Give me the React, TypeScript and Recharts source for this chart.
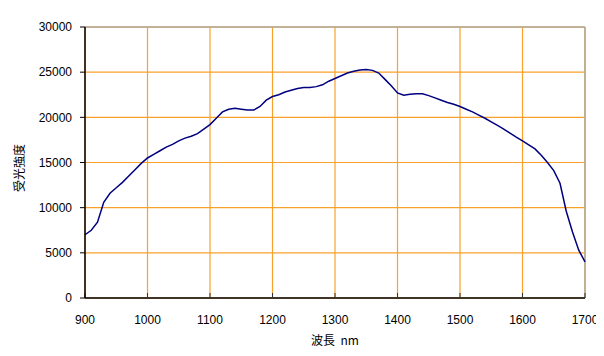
import { LineChart, Line, XAxis, YAxis, CartesianGrid, ReferenceLine } from "recharts";

// wavelength (nm) and received light intensity, every 10 nm
const wavelengths = [
  900, 910, 920, 930, 940, 950, 960, 970, 980, 990,
  1000, 1010, 1020, 1030, 1040, 1050, 1060, 1070, 1080, 1090,
  1100, 1110, 1120, 1130, 1140, 1150, 1160, 1170, 1180, 1190,
  1200, 1210, 1220, 1230, 1240, 1250, 1260, 1270, 1280, 1290,
  1300, 1310, 1320, 1330, 1340, 1350, 1360, 1370, 1380, 1390,
  1400, 1410, 1420, 1430, 1440, 1450, 1460, 1470, 1480, 1490,
  1500, 1510, 1520, 1530, 1540, 1550, 1560, 1570, 1580, 1590,
  1600, 1610, 1620, 1630, 1640, 1650, 1660, 1670, 1680, 1690,
  1700,
];

const intensity = [
  7000, 7500, 8400, 10600, 11600, 12200, 12800, 13500, 14200, 14900,
  15500, 15900, 16300, 16700, 17000, 17400, 17700, 17900, 18200, 18700,
  19200, 19900, 20600, 20900, 21000, 20900, 20800, 20800, 21200, 21900,
  22300, 22500, 22800, 23000, 23200, 23300, 23300, 23400, 23600, 24000,
  24300, 24600, 24900, 25100, 25250, 25300, 25200, 24900, 24200, 23500,
  22700, 22450, 22550, 22600, 22600, 22400, 22150, 21900, 21650, 21450,
  21200, 20900, 20600, 20250, 19900, 19500, 19100, 18700, 18250, 17800,
  17400, 16950, 16500, 15800, 15000, 14100, 12700, 9600, 7300, 5300,
  4000,
];

const xTicks = [900, 1000, 1100, 1200, 1300, 1400, 1500, 1600, 1700];
const yTicks = [0, 5000, 10000, 15000, 20000, 25000, 30000];

const ORANGE = "#F9A22B";
const FRAME = "#B0A898";
const TICK_FONT = { fontSize: 12, fill: "#000", fontFamily: "'Liberation Sans', Arial, sans-serif" };
const JP_FONT = "'Noto Sans CJK JP', sans-serif";

const data = wavelengths.map((w, i) => ({ nm: w, value: intensity[i] }));

// rotated y axis title, plus the outer chart frame (only its top and left
// edges fall inside the 604x356 picture)
function YTitle() {
  return (
    <g>
      <path d="M5 356 L5 7 L604 7" fill="none" stroke="#3a3a3a" strokeWidth={2} />
      <text
        x={18}
        y={168}
        transform="rotate(-90, 18, 168)"
        textAnchor="middle"
        dominantBaseline="central"
        fontSize={12}
        fill="#000"
        fontFamily={JP_FONT}
      >
        受光強度
      </text>
    </g>
  );
}

export default function App() {
  return (
    <div style={{ width: 604, height: 356, margin: -8, background: "#fff" }}>
      <LineChart width={604} height={356} data={data} margin={{ top: 27, right: 19, left: 25, bottom: 28 }}>
        <CartesianGrid stroke={ORANGE} strokeWidth={1.2} />
        <XAxis
          dataKey="nm"
          type="number"
          domain={[900, 1700]}
          ticks={xTicks}
          tick={TICK_FONT}
          tickSize={-5}
          tickMargin={22}
          tickLine={{ stroke: "#333" }}
          axisLine={{ stroke: "#000", strokeWidth: 1.5 }}
          height={30}
          label={{
            value: "波長\u00A0\u00A0nm",
            position: "insideBottom",
            offset: -17,
            style: { fontSize: 12, fill: "#000", fontFamily: JP_FONT },
          }}
        />
        <YAxis
          type="number"
          domain={[0, 30000]}
          ticks={yTicks}
          tick={TICK_FONT}
          tickSize={5}
          tickMargin={8}
          tickLine={{ stroke: "#000" }}
          axisLine={{ stroke: "#000", strokeWidth: 1.5 }}
          width={60}
          label={<YTitle />}
        />
        <ReferenceLine y={30000} stroke={FRAME} strokeWidth={1.5} />
        <ReferenceLine x={1700} stroke={FRAME} strokeWidth={1.5} />
        <Line
          type="linear"
          dataKey="value"
          stroke="#000080"
          strokeWidth={1.5}
          dot={false}
          isAnimationActive={false}
        />
      </LineChart>
    </div>
  );
}
